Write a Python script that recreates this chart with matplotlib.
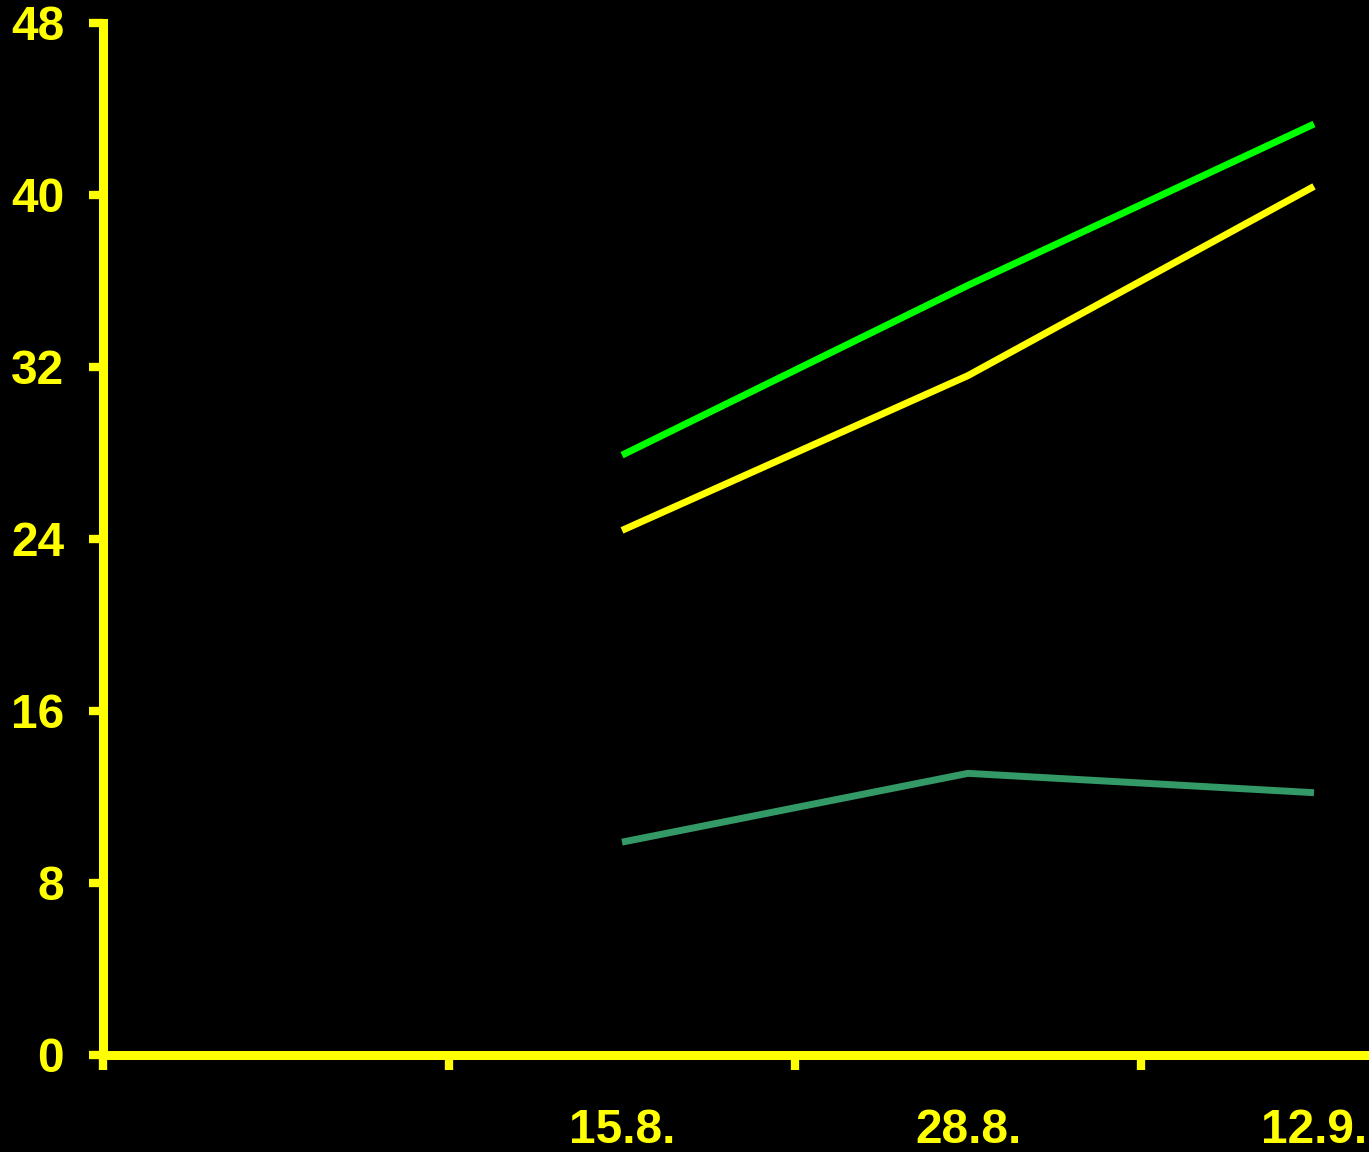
import matplotlib.pyplot as plt

# Kategorien (erste Kategorie leer)
kategorien = ["", "15.8.", "28.8.", "12.9."]
tage = ["15.8.", "28.8.", "12.9."]

serie_gruen = [27.9, 35.8, 43.3]
serie_gelb = [24.4, 31.6, 40.4]
serie_dunkelgruen = [9.9, 13.1, 12.2]

y_ticks = [0, 8, 16, 24, 32, 40, 48]

gelb = "#FFFF00"

plt.rcParams["font.family"] = ["Liberation Sans", "DejaVu Sans"]

fig = plt.figure(figsize=(13.69, 11.52), dpi=100, facecolor="black")
ax = fig.add_axes([103 / 1369, 97 / 1152, 1384 / 1369, 1032 / 1152])
ax.set_facecolor("black")

x = [kategorien.index(t) for t in tage]
ax.plot(x, serie_gruen, color="#00FF00", linewidth=5, solid_capstyle="butt")
ax.plot(x, serie_gelb, color=gelb, linewidth=5, solid_capstyle="butt")
ax.plot(x, serie_dunkelgruen, color="#339966", linewidth=5, solid_capstyle="butt")

ax.set_xlim(-0.5, len(kategorien) - 0.5)
ax.set_ylim(0, 48)

# Achsen
for seite in ["top", "right"]:
    ax.spines[seite].set_visible(False)
for seite in ["left", "bottom"]:
    ax.spines[seite].set_color(gelb)
    ax.spines[seite].set_linewidth(6.5)

ax.set_yticks(y_ticks)
ax.set_yticklabels([str(v) for v in y_ticks])
ax.tick_params(axis="y", colors=gelb, length=10, width=6, pad=18,
               labelsize=34.5)

# Striche an den Kategoriegrenzen, Beschriftung mittig
ax.set_xticks([i - 0.5 for i in range(len(kategorien))])
ax.set_xticklabels([])
ax.set_xticks(range(len(kategorien)), minor=True)
ax.set_xticklabels(kategorien, minor=True)
ax.tick_params(axis="x", which="major", colors=gelb, length=11, width=6)
ax.tick_params(axis="x", which="minor", colors=gelb, length=0, pad=38,
               labelsize=34.5)

for lab in ax.get_xticklabels(minor=True) + ax.get_yticklabels():
    lab.set_fontweight("bold")
    lab.set_color(gelb)

fig.savefig("out.png", dpi=100, facecolor="black")
